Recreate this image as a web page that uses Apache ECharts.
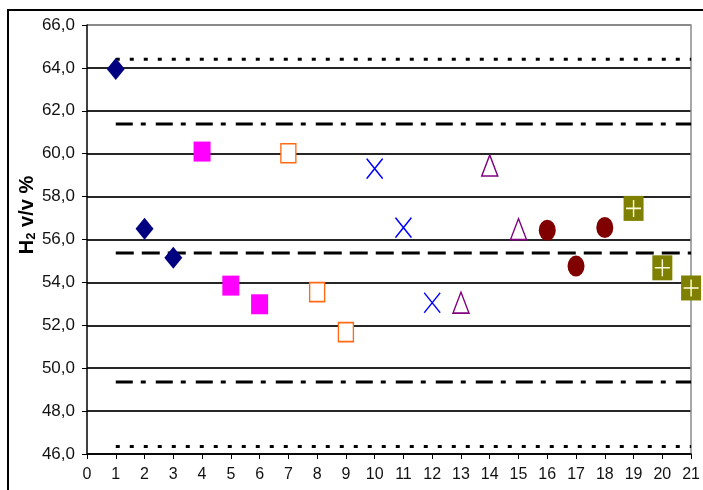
<!DOCTYPE html>
<html><head><meta charset="utf-8">
<script src="https://cdn.jsdelivr.net/npm/echarts@6/dist/echarts.min.js"></script>
<style>html,body{margin:0;padding:0;background:#fff}#c{width:703px;height:490px}</style>
</head><body><div id="c"></div>
<script>
// ---- data ----
const xTicks = [0,21];            // x axis range
const yRange = [46,66];           // y axis range
const labA = [[1,63.95],[2,56.5],[3,55.15]];      // navy diamonds
const labB = [[4,60.1],[5,53.85],[6,52.98]];      // magenta squares
const labC = [[7,60.02],[8,53.55],[9,51.68]];     // orange hollow squares
const labD = [[10,59.3],[11,56.55],[12,53.05]];   // blue crosses
const labE = [[13,53.06],[14,59.45],[15,56.48]];  // purple triangles
const labF = [[16,56.43],[17,54.76],[18,56.56]];  // dark red circles
const labG = [[19,57.45],[20,54.68],[21,53.74]];  // olive squares with plus
const refX = [1,21];
const meanVal = 55.37;
const warnUp = 61.38, warnLo = 49.36;
const actUp = 64.4, actLo = 46.35;
const yTitle = ['H', '2', ' v/v %'];

const font = '"Liberation Sans Narrow", "Liberation Sans", Arial, sans-serif';
const boldFont = '"Liberation Sans", Arial, sans-serif';
function ref(v){ return refX.map(x=>[x,v]); }
function refLine(v, dash){
  return {type:'line', data:ref(v), symbol:'none', silent:true, z:3,
    lineStyle:{color:'#000', width:3, type:dash}};
}
const gridColors = [];
for(let i=0;i<10;i++) gridColors.push('#262626');
gridColors.push('#8a8a8a');

const chart = echarts.init(document.getElementById('c'), null, {renderer:'canvas'});
chart.setOption({
  animation:false,
  backgroundColor:'#fff',
  grid:{left:87, right:5, top:25, bottom:36, containLabel:false},
  graphic:[
    {type:'rect', shape:{x:8,y:10,width:800,height:600},
      style:{fill:'none', stroke:'#000', lineWidth:2}, z:-1},
    {type:'text', x:27, y:215, rotation:Math.PI/2, z:10,
      style:{text:'{a|'+yTitle[0]+'}{b|'+yTitle[1]+'}{a|'+yTitle[2]+'}', align:'center', verticalAlign:'middle',
        rich:{
          a:{fontFamily:boldFont, fontSize:20, fontWeight:'bold', fill:'#000'},
          b:{fontFamily:boldFont, fontSize:13, fontWeight:'bold', fill:'#000', padding:[9,0,0,0]}}}}
  ],
  xAxis:{type:'value', min:xTicks[0], max:xTicks[1], interval:1,
    axisLine:{show:true, onZero:false, lineStyle:{color:'#000', width:1.5}},
    axisTick:{show:true, inside:false, length:5, lineStyle:{color:'#000', width:1}},
    splitLine:{show:false},
    axisLabel:{fontFamily:font, fontSize:16, color:'#111', margin:13}},
  yAxis:[{type:'value', min:yRange[0], max:yRange[1], interval:2,
    axisLine:{show:true, lineStyle:{color:'#000', width:1.5}},
    axisTick:{show:true, inside:false, length:5, lineStyle:{color:'#000'}},
    splitLine:{show:true, lineStyle:{color:gridColors, width:2}},
    axisLabel:{fontFamily:font, fontSize:17, color:'#111', margin:12,
      formatter:v=>v.toFixed(1).replace('.',',')}},
   {type:'value', min:yRange[0], max:yRange[1], position:'right',
    axisLine:{show:true, lineStyle:{color:'#8a8a8a', width:1.5}},
    axisTick:{show:false}, axisLabel:{show:false}, splitLine:{show:false}}],
  series:[
    refLine(actUp,[4,10]), refLine(actLo,[4,10]),
    refLine(warnUp,[17,8,5,10]), refLine(warnLo,[17,8,5,10]),
    refLine(meanVal,[18,8]),
    {type:'scatter', data:labA, symbol:'diamond', symbolSize:[18,22], z:5,
      itemStyle:{color:'#000080', opacity:1}},
    {type:'scatter', data:labB, symbol:'rect', symbolSize:[17,20], z:5,
      itemStyle:{color:'#FF00FF', opacity:1}},
    {type:'scatter', data:labC, symbol:'rect', symbolSize:[15,19], z:5,
      itemStyle:{color:'#fff', borderColor:'#FF6A13', borderWidth:1.5, opacity:1}},
    {type:'scatter', data:labD, symbol:'path://M0,0 L10,10 M10,0 L0,10', symbolSize:[16,20], z:5,
      itemStyle:{color:'none', borderColor:'#0000FF', borderWidth:1.5, opacity:1}},
    {type:'scatter', data:labE, symbol:'triangle', symbolSize:[16,21], z:5,
      itemStyle:{color:'#fff', borderColor:'#800080', borderWidth:1.5, opacity:1}},
    {type:'scatter', data:labF, symbol:'circle', symbolSize:[17,21], z:5,
      itemStyle:{color:'#800000', opacity:1}},
    {type:'scatter', data:labG, symbol:'rect', symbolSize:[20,25], z:5,
      itemStyle:{color:'#808000', opacity:1}},
    {type:'scatter', data:labG, symbol:'path://M0,10 L20,10 M10,0 L10,20', symbolSize:[15,17], z:6,
      itemStyle:{color:'none', borderColor:'#FFFFE0', borderWidth:1.5, opacity:1}}
  ]
});
</script></body></html>
